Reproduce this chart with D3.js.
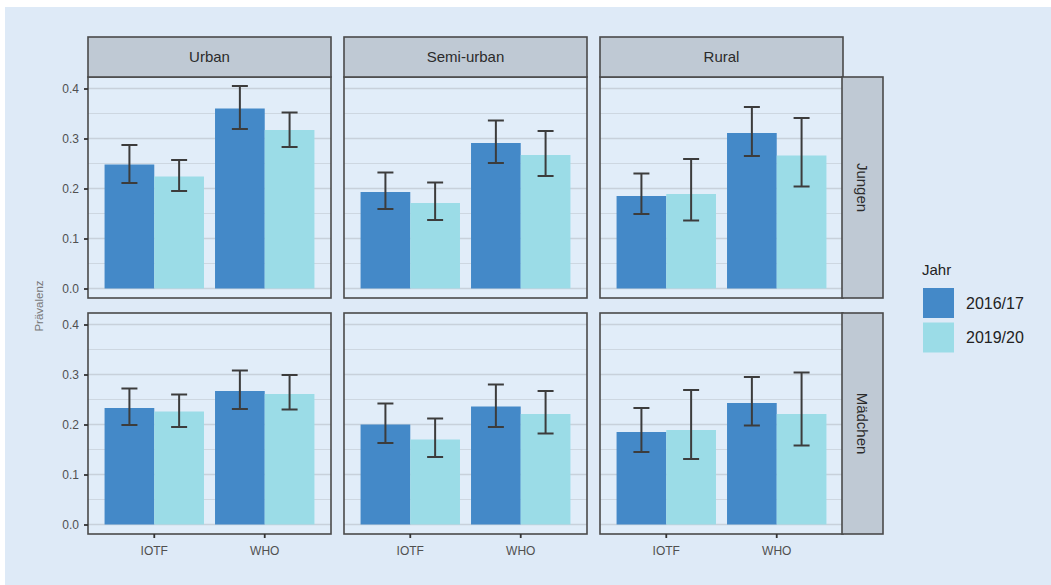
<!DOCTYPE html>
<html>
<head>
<meta charset="utf-8">
<script src="https://cdn.jsdelivr.net/npm/d3@7"></script>
<style>
  html, body { margin: 0; padding: 0; background: #ffffff; }
  svg { display: block; font-family: "Liberation Sans", Arial, sans-serif; }
</style>
</head>
<body>
<svg id="chart" width="1051" height="585"></svg>
<script>
// ---- data ----
const regions = ["Urban", "Semi-urban", "Rural"];
const sexes = ["Jungen", "Mädchen"];
const refs = ["IOTF", "WHO"];
const years = ["2016/17", "2019/20"];
const yTicks = [0.0, 0.1, 0.2, 0.3, 0.4];
const yTickLabels = ["0.0", "0.1", "0.2", "0.3", "0.4"];
const yTitle = "Prävalenz";
const legendTitle = "Jahr";

// inner order: IOTF 2016/17, IOTF 2019/20, WHO 2016/17, WHO 2019/20 ; rows = regions
const prevJungen = [
  [0.248, 0.224, 0.360, 0.317],
  [0.193, 0.171, 0.291, 0.267],
  [0.185, 0.189, 0.311, 0.266]
];
const lowJungen = [
  [0.211, 0.195, 0.319, 0.283],
  [0.159, 0.137, 0.251, 0.225],
  [0.149, 0.136, 0.265, 0.204]
];
const highJungen = [
  [0.287, 0.257, 0.405, 0.352],
  [0.232, 0.212, 0.336, 0.315],
  [0.230, 0.259, 0.363, 0.341]
];
const prevMaedchen = [
  [0.233, 0.226, 0.267, 0.261],
  [0.200, 0.170, 0.236, 0.221],
  [0.185, 0.189, 0.243, 0.221]
];
const lowMaedchen = [
  [0.199, 0.195, 0.231, 0.230],
  [0.163, 0.135, 0.195, 0.182],
  [0.145, 0.131, 0.198, 0.158]
];
const highMaedchen = [
  [0.272, 0.260, 0.308, 0.299],
  [0.242, 0.212, 0.280, 0.267],
  [0.233, 0.269, 0.295, 0.304]
];

const prevAll = [prevJungen, prevMaedchen];
const lowAll = [lowJungen, lowMaedchen];
const highAll = [highJungen, highMaedchen];

// ---- styling / layout ----
const colors = ["#4489c8", "#9bdce7"];
const bg = "#deeaf7";
const panelBg = "#e1edf9";
const stripFill = "#bfc9d4";
const borderCol = "#4a4a4a";
const gridCol = "#c8d1db";

const colX = [88, 344, 600];
const panelW = 243;
const rowY = [77, 313];
const panelH = 221;
const stripTop = 37;
const rightStripX = 842;
const rightStripW = 41;

const svg = d3.select("#chart");
svg.append("rect").attr("x", 5).attr("y", 7).attr("width", 1046).attr("height", 578).attr("fill", bg);

const xRef = d3.scaleBand().domain(refs).range([0, panelW]).paddingInner(0.1).paddingOuter(0.15);
const xYear = d3.scaleBand().domain(years).range([0, xRef.bandwidth()]).padding(0);
const color = d3.scaleOrdinal().domain(years).range(colors);
const capW = 16;

sexes.forEach((sex, si) => {
  const y = d3.scaleLinear().domain([-0.019, 0.423]).range([rowY[si] + panelH, rowY[si]]);
  regions.forEach((reg, ri) => {
    const g = svg.append("g").attr("transform", `translate(${colX[ri]},0)`);
    g.append("rect").attr("x", 0).attr("y", rowY[si]).attr("width", panelW).attr("height", panelH).attr("fill", panelBg);
    // minor grid
    const minor = [0.05, 0.15, 0.25, 0.35];
    g.selectAll(null).data(minor).enter().append("line")
      .attr("x1", 0).attr("x2", panelW)
      .attr("y1", d => y(d)).attr("y2", d => y(d))
      .attr("stroke", gridCol).attr("stroke-width", 0.8);
    g.selectAll(null).data(yTicks).enter().append("line")
      .attr("x1", 0).attr("x2", panelW)
      .attr("y1", d => y(d)).attr("y2", d => y(d))
      .attr("stroke", gridCol).attr("stroke-width", 1.3);

    const recs = [];
    refs.forEach((rf, fi) => years.forEach((yr, yi) => {
      const k = fi * 2 + yi;
      recs.push({ ref: rf, year: yr, v: prevAll[si][ri][k], lo: lowAll[si][ri][k], hi: highAll[si][ri][k] });
    }));
    g.selectAll(null).data(recs).enter().append("rect")
      .attr("x", d => xRef(d.ref) + xYear(d.year))
      .attr("width", xYear.bandwidth())
      .attr("y", d => y(d.v))
      .attr("height", d => y(0) - y(d.v))
      .attr("fill", d => color(d.year));
    const eb = g.selectAll(null).data(recs).enter().append("g")
      .attr("stroke", "#3c3c3c").attr("stroke-width", 2).attr("fill", "none");
    const cx = d => xRef(d.ref) + xYear(d.year) + xYear.bandwidth() / 2;
    eb.append("line").attr("x1", cx).attr("x2", cx).attr("y1", d => y(d.lo)).attr("y2", d => y(d.hi));
    eb.append("line").attr("x1", d => cx(d) - capW / 2).attr("x2", d => cx(d) + capW / 2).attr("y1", d => y(d.lo)).attr("y2", d => y(d.lo));
    eb.append("line").attr("x1", d => cx(d) - capW / 2).attr("x2", d => cx(d) + capW / 2).attr("y1", d => y(d.hi)).attr("y2", d => y(d.hi));

    g.append("rect").attr("x", 0).attr("y", rowY[si]).attr("width", panelW).attr("height", panelH)
      .attr("fill", "none").attr("stroke", borderCol).attr("stroke-width", 1.6);

    // top strips
    if (si === 0) {
      g.append("rect").attr("x", 0).attr("y", stripTop).attr("width", panelW).attr("height", rowY[0] - stripTop)
        .attr("fill", stripFill).attr("stroke", borderCol).attr("stroke-width", 1.6);
      g.append("text").attr("x", panelW / 2).attr("y", (stripTop + rowY[0]) / 2 + 5)
        .attr("text-anchor", "middle").attr("font-size", 15).attr("fill", "#2b2b2b").text(reg);
    }
    // x axis
    if (si === 1) {
      const xa = g.append("g").attr("transform", `translate(0,${rowY[1] + panelH})`)
        .call(d3.axisBottom(xRef).tickSize(4).tickPadding(8));
      xa.select(".domain").remove();
      xa.selectAll("line").attr("stroke", "#333").attr("stroke-width", 1.8);
      xa.selectAll("text").attr("font-size", 12).attr("fill", "#505050").attr("font-family", "Liberation Sans, Arial, sans-serif");
    }
    // y axis
    if (ri === 0) {
      const ya = g.append("g")
        .call(d3.axisLeft(y).tickValues(yTicks).tickFormat((d, i) => yTickLabels[i]).tickSize(4).tickPadding(5));
      ya.select(".domain").remove();
      ya.selectAll("line").attr("stroke", "#333").attr("stroke-width", 1.8);
      ya.selectAll("text").attr("font-size", 12).attr("fill", "#505050").attr("font-family", "Liberation Sans, Arial, sans-serif");
    }
  });
  // right strip
  svg.append("rect").attr("x", rightStripX).attr("y", rowY[si]).attr("width", rightStripW).attr("height", panelH)
    .attr("fill", stripFill).attr("stroke", borderCol).attr("stroke-width", 1.6);
  const tx = rightStripX + rightStripW / 2, ty = rowY[si] + panelH / 2;
  svg.append("text").attr("transform", `translate(${tx},${ty}) rotate(90)`)
    .attr("text-anchor", "middle").attr("dy", "0.35em").attr("font-size", 15).attr("fill", "#2b2b2b").text(sex);
});

// y title
svg.append("text").attr("transform", "translate(43,306) rotate(-90)")
  .attr("text-anchor", "middle").attr("font-size", 11.5).attr("fill", "#777").text(yTitle);

// legend
svg.append("text").attr("x", 922).attr("y", 275).attr("font-size", 15).attr("fill", "#222").text(legendTitle);
const lg = svg.selectAll(null).data(years).enter().append("g")
  .attr("transform", (d, i) => `translate(923,${288 + i * 34.5})`);
lg.append("rect").attr("width", 31).attr("height", 30).attr("fill", d => color(d));
lg.append("text").attr("x", 43).attr("y", 15).attr("dy", "0.35em").attr("font-size", 16).attr("fill", "#222").text(d => d);
</script>
</body>
</html>
